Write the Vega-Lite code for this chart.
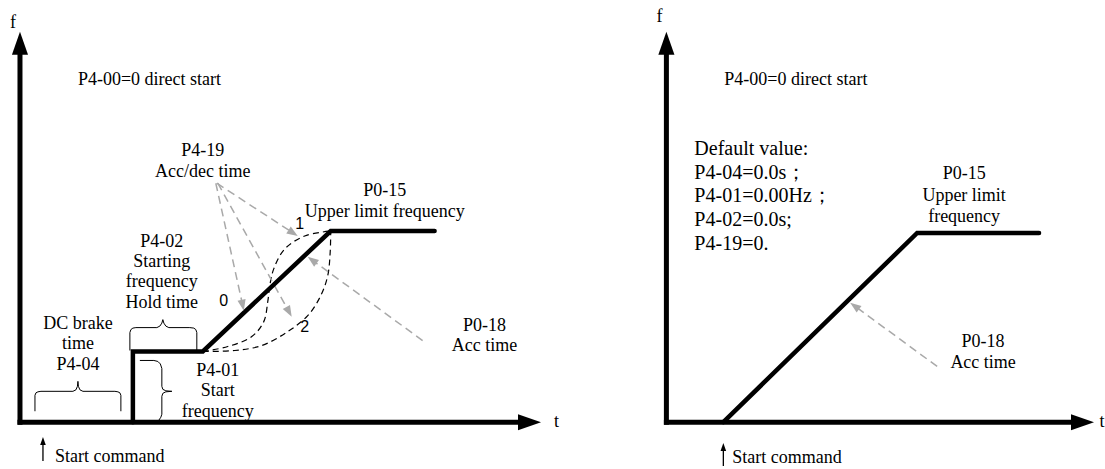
{
  "$schema": "https://vega.github.io/schema/vega-lite/v6.json",
  "width": 1105,
  "height": 469,
  "padding": 0,
  "autosize": {"type": "fit", "contains": "padding"},
  "background": "white",
  "config": {"view": {"stroke": null}},
  "datasets": {
    "axes": [
      {"id": "ly", "i": 0, "t": 20, "f": 0}, {"id": "ly", "i": 1, "t": 20, "f": 372},
      {"id": "lx", "i": 0, "t": 20, "f": 0}, {"id": "lx", "i": 1, "t": 520, "f": 0},
      {"id": "ry", "i": 0, "t": 667, "f": 0}, {"id": "ry", "i": 1, "t": 667, "f": 372},
      {"id": "rx", "i": 0, "t": 667, "f": 0}, {"id": "rx", "i": 1, "t": 1073, "f": 0}
    ],
    "profile": [
      {"id": "L", "i": 0, "t": 133, "f": 0}, {"id": "L", "i": 1, "t": 133, "f": 71},
      {"id": "L", "i": 2, "t": 203, "f": 71}, {"id": "L", "i": 3, "t": 331, "f": 192},
      {"id": "L", "i": 4, "t": 435, "f": 192},
      {"id": "R", "i": 0, "t": 724, "f": 0}, {"id": "R", "i": 1, "t": 918, "f": 190},
      {"id": "R", "i": 2, "t": 1040, "f": 190}
    ],
    "curves": [
      {"id": "c1", "i": 0, "t": 203, "f": 71}, {"id": "c1", "i": 1, "t": 228, "f": 76},
      {"id": "c1", "i": 2, "t": 252, "f": 86}, {"id": "c1", "i": 3, "t": 264, "f": 101},
      {"id": "c1", "i": 4, "t": 268, "f": 121}, {"id": "c1", "i": 5, "t": 270, "f": 137},
      {"id": "c1", "i": 6, "t": 274, "f": 154}, {"id": "c1", "i": 7, "t": 285, "f": 174},
      {"id": "c1", "i": 8, "t": 305, "f": 187}, {"id": "c1", "i": 9, "t": 331, "f": 192},
      {"id": "c2", "i": 0, "t": 203, "f": 71}, {"id": "c2", "i": 1, "t": 235, "f": 72},
      {"id": "c2", "i": 2, "t": 262, "f": 77}, {"id": "c2", "i": 3, "t": 288, "f": 91},
      {"id": "c2", "i": 4, "t": 308, "f": 107}, {"id": "c2", "i": 5, "t": 321, "f": 127},
      {"id": "c2", "i": 6, "t": 328, "f": 147}, {"id": "c2", "i": 7, "t": 330.5, "f": 171},
      {"id": "c2", "i": 8, "t": 331, "f": 192}
    ],
    "guides": [
      {"id": "a1", "i": 0, "t": 217, "f": 240}, {"id": "a1", "i": 1, "t": 293.4, "f": 190},
      {"id": "a0", "i": 0, "t": 216, "f": 240}, {"id": "a0", "i": 1, "t": 242.9, "f": 117.4},
      {"id": "a2", "i": 0, "t": 218, "f": 240}, {"id": "a2", "i": 1, "t": 289.3, "f": 110.8},
      {"id": "accL", "i": 0, "t": 423, "f": 82}, {"id": "accL", "i": 1, "t": 312.4, "f": 162.8},
      {"id": "accR", "i": 0, "t": 938, "f": 56}, {"id": "accR", "i": 1, "t": 855.4, "f": 116.7}
    ],
    "braces": [
      {"id": "hold", "i": 0, "t": 130, "f": 72}, {"id": "hold", "i": 1, "t": 130, "f": 90},
      {"id": "hold", "i": 2, "t": 131, "f": 93}, {"id": "hold", "i": 3, "t": 133, "f": 94.5},
      {"id": "hold", "i": 4, "t": 136, "f": 95}, {"id": "hold", "i": 5, "t": 157, "f": 95},
      {"id": "hold", "i": 6, "t": 160, "f": 96.5}, {"id": "hold", "i": 7, "t": 162, "f": 99.5},
      {"id": "hold", "i": 8, "t": 163, "f": 103}, {"id": "hold", "i": 9, "t": 164, "f": 99.5},
      {"id": "hold", "i": 10, "t": 166, "f": 96.5}, {"id": "hold", "i": 11, "t": 169, "f": 95},
      {"id": "hold", "i": 12, "t": 190, "f": 95}, {"id": "hold", "i": 13, "t": 194, "f": 94.5},
      {"id": "hold", "i": 14, "t": 196, "f": 93}, {"id": "hold", "i": 15, "t": 197, "f": 90},
      {"id": "hold", "i": 16, "t": 197, "f": 72},
      {"id": "dc", "i": 0, "t": 35, "f": 11}, {"id": "dc", "i": 1, "t": 35, "f": 27},
      {"id": "dc", "i": 2, "t": 36, "f": 29.5}, {"id": "dc", "i": 3, "t": 38, "f": 30.5},
      {"id": "dc", "i": 4, "t": 41, "f": 31}, {"id": "dc", "i": 5, "t": 73, "f": 31},
      {"id": "dc", "i": 6, "t": 76, "f": 32.5}, {"id": "dc", "i": 7, "t": 77.5, "f": 36},
      {"id": "dc", "i": 8, "t": 78, "f": 41}, {"id": "dc", "i": 9, "t": 78.5, "f": 36},
      {"id": "dc", "i": 10, "t": 80, "f": 32.5}, {"id": "dc", "i": 11, "t": 83, "f": 31},
      {"id": "dc", "i": 12, "t": 115, "f": 31}, {"id": "dc", "i": 13, "t": 118, "f": 30.5},
      {"id": "dc", "i": 14, "t": 120, "f": 29.5}, {"id": "dc", "i": 15, "t": 121, "f": 27},
      {"id": "dc", "i": 16, "t": 121, "f": 11},
      {"id": "sf", "i": 0, "t": 140, "f": 62}, {"id": "sf", "i": 1, "t": 154, "f": 62},
      {"id": "sf", "i": 2, "t": 158, "f": 61}, {"id": "sf", "i": 3, "t": 160.5, "f": 58.5},
      {"id": "sf", "i": 4, "t": 162, "f": 54}, {"id": "sf", "i": 5, "t": 162, "f": 36},
      {"id": "sf", "i": 6, "t": 163, "f": 33}, {"id": "sf", "i": 7, "t": 166, "f": 31.5},
      {"id": "sf", "i": 8, "t": 172, "f": 31}, {"id": "sf", "i": 9, "t": 166, "f": 30.5},
      {"id": "sf", "i": 10, "t": 163, "f": 29}, {"id": "sf", "i": 11, "t": 162, "f": 26},
      {"id": "sf", "i": 12, "t": 162, "f": 8}, {"id": "sf", "i": 13, "t": 161, "f": 5},
      {"id": "sf", "i": 14, "t": 159, "f": 2}
    ],
    "cmd": [
      {"id": "cl", "i": 0, "t": 43, "f": -39}, {"id": "cl", "i": 1, "t": 43, "f": -19},
      {"id": "cr", "i": 0, "t": 724, "f": -44}, {"id": "cr", "i": 1, "t": 724, "f": -25}
    ],
    "heads": [
      {"id": "ly", "t": 20, "f": 380.5}, {"id": "ry", "t": 667, "f": 380.5},
      {"id": "lx", "t": 530, "f": 0}, {"id": "rx", "t": 1083.5, "f": 0},
      {"id": "cl", "t": 43, "f": -19}, {"id": "cr", "t": 724, "f": -25},
      {"id": "a1", "t": 293.4, "f": 190}, {"id": "a0", "t": 242.9, "f": 117.4},
      {"id": "a2", "t": 289.3, "f": 110.8}, {"id": "accL", "t": 312.4, "f": 162.8},
      {"id": "accR", "t": 855.4, "f": 116.7}
    ],
    "labels": [
      {"role": "ax", "text": "f", "t": 13, "f": 401},
      {"role": "ax", "text": "t", "t": 557, "f": 0},
      {"role": "ax", "text": "f", "t": 660, "f": 407},
      {"role": "ax", "text": "t", "t": 1103, "f": 0},
      {"role": "l", "text": "P4-00=0 direct start", "t": 78, "f": 344},
      {"role": "l", "text": "P4-00=0 direct start", "t": 725, "f": 344},
      {"role": "l", "text": "Start command", "t": 55, "f": -35},
      {"role": "l", "text": "Start command", "t": 733, "f": -36},
      {"role": "c", "text": "P4-19", "t": 203, "f": 272},
      {"role": "c", "text": "Acc/dec time", "t": 203, "f": 251},
      {"role": "c", "text": "P0-15", "t": 385, "f": 232},
      {"role": "c", "text": "Upper limit frequency", "t": 385, "f": 211},
      {"role": "c", "text": "P4-02", "t": 162, "f": 181},
      {"role": "c", "text": "Starting", "t": 162, "f": 161},
      {"role": "c", "text": "frequency", "t": 162, "f": 141},
      {"role": "c", "text": "Hold time", "t": 162, "f": 120},
      {"role": "c", "text": "DC brake", "t": 78, "f": 99},
      {"role": "c", "text": "time", "t": 78, "f": 79},
      {"role": "c", "text": "P4-04", "t": 78, "f": 57},
      {"role": "c", "text": "P4-01", "t": 218, "f": 51},
      {"role": "c", "text": "Start", "t": 218, "f": 31},
      {"role": "c", "text": "frequency", "t": 218, "f": 10},
      {"role": "c", "text": "P0-18", "t": 485, "f": 97},
      {"role": "c", "text": "Acc time", "t": 485, "f": 77},
      {"role": "c", "text": "P0-15", "t": 965, "f": 249},
      {"role": "c", "text": "Upper limit", "t": 965, "f": 227},
      {"role": "c", "text": "frequency", "t": 965, "f": 206},
      {"role": "c", "text": "P0-18", "t": 984, "f": 81},
      {"role": "c", "text": "Acc time", "t": 984, "f": 59},
      {"role": "v", "text": "Default value:", "t": 695, "f": 274},
      {"role": "v", "text": "P4-04=0.0s；", "t": 695, "f": 250},
      {"role": "v", "text": "P4-01=0.00Hz；", "t": 695, "f": 227},
      {"role": "v", "text": "P4-02=0.0s;", "t": 695, "f": 203},
      {"role": "v", "text": "P4-19=0.", "t": 695, "f": 179},
      {"role": "n", "text": "0", "t": 224, "f": 122},
      {"role": "n", "text": "1", "t": 300, "f": 199},
      {"role": "n", "text": "2", "t": 305, "f": 96}
    ]
  },
  "encoding": {
    "x": {"field": "t", "type": "quantitative", "axis": null, "scale": {"domain": [0, 1105], "nice": false, "zero": false}},
    "y": {"field": "f", "type": "quantitative", "axis": null, "scale": {"domain": [-45, 424], "nice": false, "zero": false}}
  },
  "layer": [
    {
      "data": {"name": "curves"},
      "mark": {"type": "line", "color": "#000000", "strokeWidth": 1.2, "strokeDash": [6, 4], "interpolate": "catmull-rom"},
      "encoding": {"detail": {"field": "id"}, "order": {"field": "i"}}
    },
    {
      "data": {"name": "guides"},
      "mark": {"type": "line", "color": "#a9a9a9", "strokeWidth": 1.5, "strokeDash": [8, 5]},
      "encoding": {"detail": {"field": "id"}, "order": {"field": "i"}}
    },
    {
      "data": {"name": "braces"},
      "mark": {"type": "line", "color": "#000000", "strokeWidth": 1, "interpolate": "linear"},
      "encoding": {"detail": {"field": "id"}, "order": {"field": "i"}}
    },
    {
      "data": {"name": "cmd"},
      "mark": {"type": "line", "color": "#000000", "strokeWidth": 1.3},
      "encoding": {"detail": {"field": "id"}, "order": {"field": "i"}}
    },
    {
      "data": {"name": "axes"},
      "mark": {"type": "line", "color": "#000000", "strokeWidth": 5, "strokeCap": "square"},
      "encoding": {"detail": {"field": "id"}, "order": {"field": "i"}}
    },
    {
      "data": {"name": "profile"},
      "mark": {"type": "line", "color": "#000000", "strokeWidth": 4.5, "strokeJoin": "miter", "strokeCap": "round"},
      "encoding": {"detail": {"field": "id"}, "order": {"field": "i"}}
    },
    {
      "data": {"name": "heads"},
      "transform": [{"filter": "datum.id === 'ly' || datum.id === 'ry'"}],
      "mark": {"type": "point", "shape": "M0,-1L0.7,1L-0.7,1Z", "filled": true, "color": "#000000", "opacity": 1, "size": 529, "angle": 0, "strokeWidth": 0}
    },
    {
      "data": {"name": "heads"},
      "transform": [{"filter": "datum.id === 'lx' || datum.id === 'rx'"}],
      "mark": {"type": "point", "shape": "M0,-1L0.7,1L-0.7,1Z", "filled": true, "color": "#000000", "opacity": 1, "size": 529, "angle": 90, "strokeWidth": 0}
    },
    {
      "data": {"name": "heads"},
      "transform": [{"filter": "datum.id === 'cl' || datum.id === 'cr'"}],
      "mark": {"type": "point", "shape": "M0,-1L0.7,1L-0.7,1Z", "filled": true, "color": "#000000", "opacity": 1, "size": 64, "angle": 0, "strokeWidth": 0}
    },
    {
      "data": {"name": "heads"},
      "transform": [{"filter": "datum.id === 'a1'"}],
      "mark": {"type": "point", "shape": "M0,-1L0.75,1L-0.75,1Z", "filled": true, "color": "#a9a9a9", "opacity": 1, "size": 121, "angle": 123, "strokeWidth": 0}
    },
    {
      "data": {"name": "heads"},
      "transform": [{"filter": "datum.id === 'a0'"}],
      "mark": {"type": "point", "shape": "M0,-1L0.75,1L-0.75,1Z", "filled": true, "color": "#a9a9a9", "opacity": 1, "size": 121, "angle": 168, "strokeWidth": 0}
    },
    {
      "data": {"name": "heads"},
      "transform": [{"filter": "datum.id === 'a2'"}],
      "mark": {"type": "point", "shape": "M0,-1L0.75,1L-0.75,1Z", "filled": true, "color": "#a9a9a9", "opacity": 1, "size": 121, "angle": 151, "strokeWidth": 0}
    },
    {
      "data": {"name": "heads"},
      "transform": [{"filter": "datum.id === 'accL' || datum.id === 'accR'"}],
      "mark": {"type": "point", "shape": "M0,-1L0.75,1L-0.75,1Z", "filled": true, "color": "#a9a9a9", "opacity": 1, "size": 121, "angle": 306, "strokeWidth": 0}
    },
    {
      "data": {"name": "labels"},
      "transform": [{"filter": "datum.role === 'c'"}],
      "mark": {"type": "text", "font": "Liberation Serif", "fontSize": 18, "align": "center", "baseline": "middle", "color": "#000000"},
      "encoding": {"text": {"field": "text"}}
    },
    {
      "data": {"name": "labels"},
      "transform": [{"filter": "datum.role === 'ax'"}],
      "mark": {"type": "text", "font": "Liberation Serif", "fontSize": 18, "align": "center", "baseline": "middle", "color": "#000000"},
      "encoding": {"text": {"field": "text"}}
    },
    {
      "data": {"name": "labels"},
      "transform": [{"filter": "datum.role === 'l'"}],
      "mark": {"type": "text", "font": "Liberation Serif", "fontSize": 18, "align": "left", "baseline": "middle", "color": "#000000"},
      "encoding": {"text": {"field": "text"}}
    },
    {
      "data": {"name": "labels"},
      "transform": [{"filter": "datum.role === 'v'"}],
      "mark": {"type": "text", "font": "Liberation Serif", "fontSize": 20, "align": "left", "baseline": "middle", "color": "#000000"},
      "encoding": {"text": {"field": "text"}}
    },
    {
      "data": {"name": "labels"},
      "transform": [{"filter": "datum.role === 'n'"}],
      "mark": {"type": "text", "font": "Liberation Sans", "fontSize": 16, "align": "center", "baseline": "middle", "color": "#000000"},
      "encoding": {"text": {"field": "text"}}
    }
  ]
}
